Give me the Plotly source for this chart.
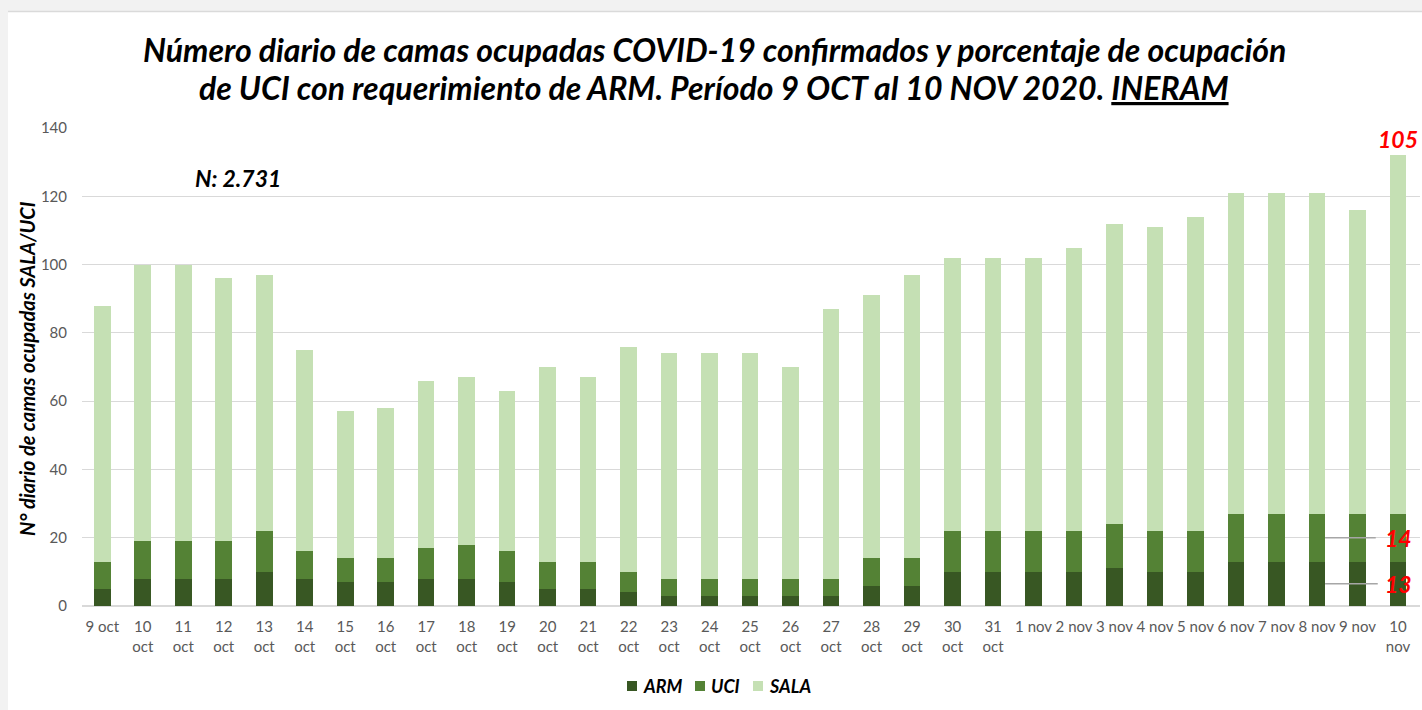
import plotly.graph_objects as go

# ---------------- data ----------------
dates = ["9 oct", "10 oct", "11 oct", "12 oct", "13 oct", "14 oct", "15 oct", "16 oct",
         "17 oct", "18 oct", "19 oct", "20 oct", "21 oct", "22 oct", "23 oct", "24 oct",
         "25 oct", "26 oct", "27 oct", "28 oct", "29 oct", "30 oct", "31 oct",
         "1 nov", "2 nov", "3 nov", "4 nov", "5 nov", "6 nov", "7 nov", "8 nov", "9 nov", "10 nov"]
tick_labels = ["9 oct", "10<br>oct", "11<br>oct", "12<br>oct", "13<br>oct", "14<br>oct", "15<br>oct",
               "16<br>oct", "17<br>oct", "18<br>oct", "19<br>oct", "20<br>oct", "21<br>oct", "22<br>oct",
               "23<br>oct", "24<br>oct", "25<br>oct", "26<br>oct", "27<br>oct", "28<br>oct", "29<br>oct",
               "30<br>oct", "31<br>oct", "1 nov", "2 nov", "3 nov", "4 nov", "5 nov", "6 nov", "7 nov",
               "8 nov", "9 nov", "10<br>nov"]
arm = [5, 8, 8, 8, 10, 8, 7, 7, 8, 8, 7, 5, 5, 4, 3, 3, 3, 3, 3, 6, 6, 10, 10,
       10, 10, 11, 10, 10, 13, 13, 13, 13, 13]
uci = [8, 11, 11, 11, 12, 8, 7, 7, 9, 10, 9, 8, 8, 6, 5, 5, 5, 5, 5, 8, 8, 12, 12,
       12, 12, 13, 12, 12, 14, 14, 14, 14, 14]
sala = [75, 81, 81, 77, 75, 59, 43, 44, 49, 49, 47, 57, 54, 66, 66, 66, 66, 62, 79, 77, 83, 80, 80,
        80, 83, 88, 89, 92, 94, 94, 94, 89, 105]
y_ticks = [0, 20, 40, 60, 80, 100, 120, 140]
series_names = ["ARM", "UCI", "SALA"]
series_colors = ["#385723", "#548235", "#C5E0B4"]

# ---------------- layout geometry ----------------
W, H = 1422, 710
L, R, T, B = 82, 1420, 128, 606


def px_x(p):
    return (p - L) / (R - L)


def px_y(p):
    return (B - p) / (B - T)


FONT = "Lato, 'Open Sans', sans-serif"

fig = go.Figure()
for name, vals, col in zip(series_names, [arm, uci, sala], series_colors):
    fig.add_trace(go.Bar(x=dates, y=vals, name=name, marker=dict(color=col, line=dict(width=0)),
                         showlegend=False))

totals = [a + u + s for a, u, s in zip(arm, uci, sala)]
last = len(dates) - 1

annotations = [
    dict(xref="paper", yref="paper", x=px_x(714), y=px_y(49), showarrow=False,
         text="<b><i>Número diario de camas ocupadas COVID-19 confirmados y porcentaje de ocupación</i></b>",
         font=dict(family=FONT, size=32, color="black"), xanchor="center", yanchor="middle"),
    dict(xref="paper", yref="paper", x=px_x(714), y=px_y(87), showarrow=False,
         text="<b><i>de UCI con requerimiento de ARM. Período 9 OCT al 10 NOV 2020. <u>INERAM</u></i></b>",
         font=dict(family=FONT, size=32, color="black"), xanchor="center", yanchor="middle"),
    dict(xref="paper", yref="paper", x=px_x(238), y=px_y(178), showarrow=False,
         text="<b><i>N: 2.731</i></b>", font=dict(family=FONT, size=23, color="black"),
         xanchor="center", yanchor="middle"),
    dict(xref="paper", yref="paper", x=px_x(27), y=px_y(369), showarrow=False, textangle=-90,
         text="<b><i>N° diario de camas ocupadas SALA/UCI</i></b>",
         font=dict(family=FONT, size=20, color="black"), xanchor="center", yanchor="middle"),
    dict(x=dates[last], y=totals[last], showarrow=False, text="<b><i>%d</i></b>" % sala[last],
         font=dict(family=FONT, size=23, color="#FF0000"), xanchor="center", yanchor="bottom", yshift=0),
    dict(x=dates[last], y=arm[last] + uci[last] / 2, showarrow=False, text="<b><i>%d</i></b>" % uci[last],
         font=dict(family=FONT, size=23, color="#FF0000"), xanchor="center", yanchor="middle"),
    dict(x=dates[last], y=arm[last] / 2, showarrow=False, text="<b><i>%d</i></b>" % arm[last],
         font=dict(family=FONT, size=23, color="#FF0000"), xanchor="center", yanchor="middle"),
]

shapes = [
    # light frame strips (top & left)
    dict(type="rect", xref="paper", yref="paper", x0=px_x(0), x1=px_x(W), y0=px_y(0), y1=px_y(11),
         fillcolor="#F2F2F2", line=dict(width=0), layer="below"),
    dict(type="line", xref="paper", yref="paper", x0=px_x(8), x1=px_x(W), y0=px_y(11.5), y1=px_y(11.5),
         line=dict(color="#DADADA", width=1.5)),
    dict(type="rect", xref="paper", yref="paper", x0=px_x(0), x1=px_x(8), y0=px_y(H), y1=px_y(0),
         fillcolor="#F2F2F2", line=dict(width=0), layer="below"),
    # leader lines for the data labels
    dict(type="line", x0=last - 1.8, x1=last - 0.55, y0=arm[last] + uci[last] / 2, y1=arm[last] + uci[last] / 2,
         line=dict(color="#A6A6A6", width=1.5)),
    dict(type="line", x0=last - 1.8, x1=last - 0.5, y0=arm[last] / 2, y1=arm[last] / 2,
         line=dict(color="#A6A6A6", width=1.5)),
]

# custom legend (square swatch + bold italic label)
legend_swatch_px = [627, 695, 753]
for name, col, sx in zip(series_names, series_colors, legend_swatch_px):
    shapes.append(dict(type="rect", xref="paper", yref="paper", x0=px_x(sx), x1=px_x(sx + 10),
                       y0=px_y(691), y1=px_y(681), fillcolor=col, line=dict(width=0)))
    annotations.append(dict(xref="paper", yref="paper", x=px_x(sx + 14), y=px_y(686), showarrow=False,
                            text="<b><i>%s</i></b>" % name, font=dict(family=FONT, size=18, color="black"),
                            xanchor="left", yanchor="middle"))

fig.update_layout(
    width=W, height=H,
    margin=dict(l=L, r=W - R, t=T, b=H - B, autoexpand=False),
    barmode="stack", bargap=0.59,
    plot_bgcolor="white", paper_bgcolor="white",
    font=dict(family=FONT, color="#595959"),
    showlegend=False,
    annotations=annotations,
    shapes=shapes,
)
fig.update_xaxes(tickmode="array", tickvals=dates, ticktext=tick_labels, tickfont=dict(size=15, color="#595959"),
                 showgrid=False, showline=False, ticks="", ticklabelstandoff=10, fixedrange=True)
fig.update_yaxes(range=[0, 140], tickvals=y_ticks, tickfont=dict(size=15, color="#595959"),
                 showgrid=True, gridcolor="#D9D9D9", gridwidth=1.3, zeroline=True, zerolinecolor="#D9D9D9",
                 zerolinewidth=1.5, showline=False, ticks="", ticklabelstandoff=14, fixedrange=True)

fig.write_html("out.html", config={"displayModeBar": False},
               post_script="document.body.style.margin='0';document.body.style.overflow='hidden';")
